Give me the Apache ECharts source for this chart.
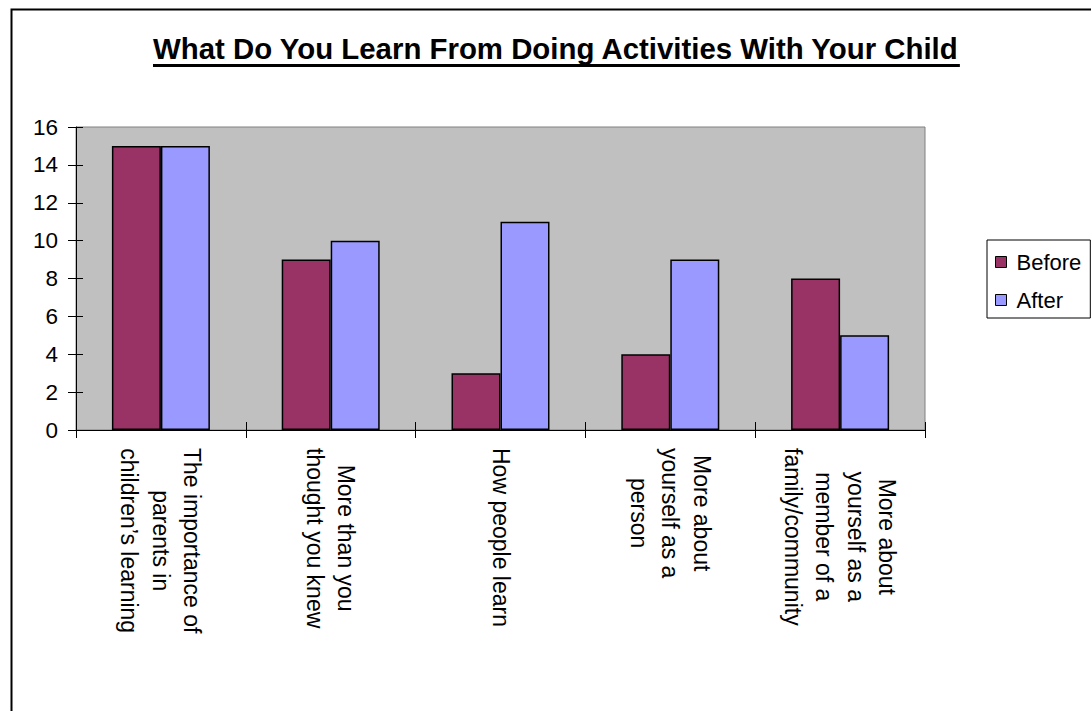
<!DOCTYPE html>
<html>
<head>
<meta charset="utf-8">
<script src="https://cdn.jsdelivr.net/npm/echarts@6/dist/echarts.min.js"></script>
<style>
html,body{margin:0;padding:0;background:#fff;}
#chart{width:1091px;height:711px;}
</style>
</head>
<body>
<div id="chart"></div>
<script>
const titleText = 'What Do You Learn From Doing Activities With Your Child';
const categories = [
  'The importance of\nparents in\nchildren\u2019s learning',
  'More than you\nthought you knew',
  'How people learn',
  'More about\nyourself as a\nperson',
  'More about\nyourself as a\nmember of a\nfamily/community'
];
const seriesNames = ['Before', 'After'];
const beforeValues = [15, 9, 3, 4, 8];
const afterValues = [15, 10, 11, 9, 5];
const yTicks = { min: 0, max: 16, interval: 2 };

const FONT = '"Liberation Sans", Arial, sans-serif';

function measure(text, font) {
  const c = document.createElement('canvas').getContext('2d');
  c.font = font;
  return c.measureText(text).width;
}
const titleWidth = measure(titleText, 'bold 29.4px "Liberation Sans", Arial, sans-serif');

const chart = echarts.init(document.getElementById('chart'), null, { renderer: 'svg' });

const option = {
  animation: false,
  backgroundColor: '#ffffff',
  title: {
    text: titleText,
    left: 153,
    top: 34,
    padding: 0,
    textStyle: { fontSize: 29.4, fontWeight: 'bold', fontFamily: FONT, color: '#000' }
  },
  legend: {
    orient: 'vertical',
    left: 987,
    top: 240,
    padding: [11, 9, 7, 8],
    itemGap: 16,
    itemWidth: 11,
    itemHeight: 11,
    icon: 'rect',
    backgroundColor: '#ffffff',
    borderColor: '#000000',
    borderWidth: 1,
    borderRadius: 0,
    textStyle: { fontSize: 22, fontFamily: FONT, color: '#000', padding: [0, 0, 0, 5] },
    itemStyle: { borderColor: '#000', borderWidth: 1 },
    data: seriesNames
  },
  grid: {
    left: 76,
    top: 127,
    right: 166,
    bottom: 281,
    show: true,
    backgroundColor: '#C0C0C0',
    borderColor: '#808080',
    borderWidth: 1,
    containLabel: false
  },
  xAxis: [
    {
      type: 'category',
      data: categories,
      position: 'bottom',
      axisLine: { show: true, lineStyle: { color: '#000', width: 1 } },
      axisTick: { show: true, inside: false, length: 8, lineStyle: { color: '#000' } },
      axisLabel: {
        interval: 0,
        rotate: -90,
        margin: 18,
        color: '#000',
        fontFamily: FONT,
        fontSize: 23,
        formatter: function (v) {
          return v.split('\n').map(function (l) { return '{c|' + l + '}'; }).join('\n');
        },
        rich: {
          c: { align: 'center', fontSize: 23, lineHeight: 31.5, fontFamily: FONT, color: '#000' }
        }
      },
      splitLine: { show: false }
    },
    {
      type: 'category',
      data: categories,
      position: 'bottom',
      axisLine: { show: false },
      axisTick: { show: true, inside: true, length: 8, lineStyle: { color: '#000' } },
      axisLabel: { show: false },
      splitLine: { show: false }
    }
  ],
  yAxis: [
    {
      type: 'value',
      min: yTicks.min,
      max: yTicks.max,
      interval: yTicks.interval,
      position: 'left',
      axisLine: { show: true, lineStyle: { color: '#000', width: 1 } },
      axisTick: { show: true, inside: false, length: 8, lineStyle: { color: '#000' } },
      axisLabel: { margin: 18, color: '#000', fontFamily: FONT, fontSize: 22.5 },
      splitLine: { show: false }
    },
    {
      type: 'value',
      min: yTicks.min,
      max: yTicks.max,
      interval: yTicks.interval,
      position: 'left',
      offset: 0,
      axisLine: { show: false },
      axisTick: { show: true, inside: true, length: 7, lineStyle: { color: '#000' } },
      axisLabel: { show: false },
      splitLine: { show: false }
    }
  ],
  series: [
    {
      name: seriesNames[0],
      type: 'bar',
      data: beforeValues,
      barWidth: 49,
      barGap: '0%',
      itemStyle: { color: '#993366', borderColor: '#000', borderWidth: 1.5 }
    },
    {
      name: seriesNames[1],
      type: 'bar',
      data: afterValues,
      barWidth: 49,
      barGap: '0%',
      itemStyle: { color: '#9999FF', borderColor: '#000', borderWidth: 1.5 }
    }
  ],
  graphic: [
    {
      type: 'rect',
      left: 9, top: 7,
      shape: { x: 0, y: 0, width: 1200, height: 800 },
      style: { fill: 'none', stroke: '#000', lineWidth: 2 },
      silent: true, z: -10
    },
    {
      type: 'rect',
      left: 153, top: 64,
      shape: { x: 0, y: 0, width: titleWidth, height: 3 },
      style: { fill: '#000' },
      silent: true
    }
  ]
};
chart.setOption(option);
</script>
</body>
</html>
